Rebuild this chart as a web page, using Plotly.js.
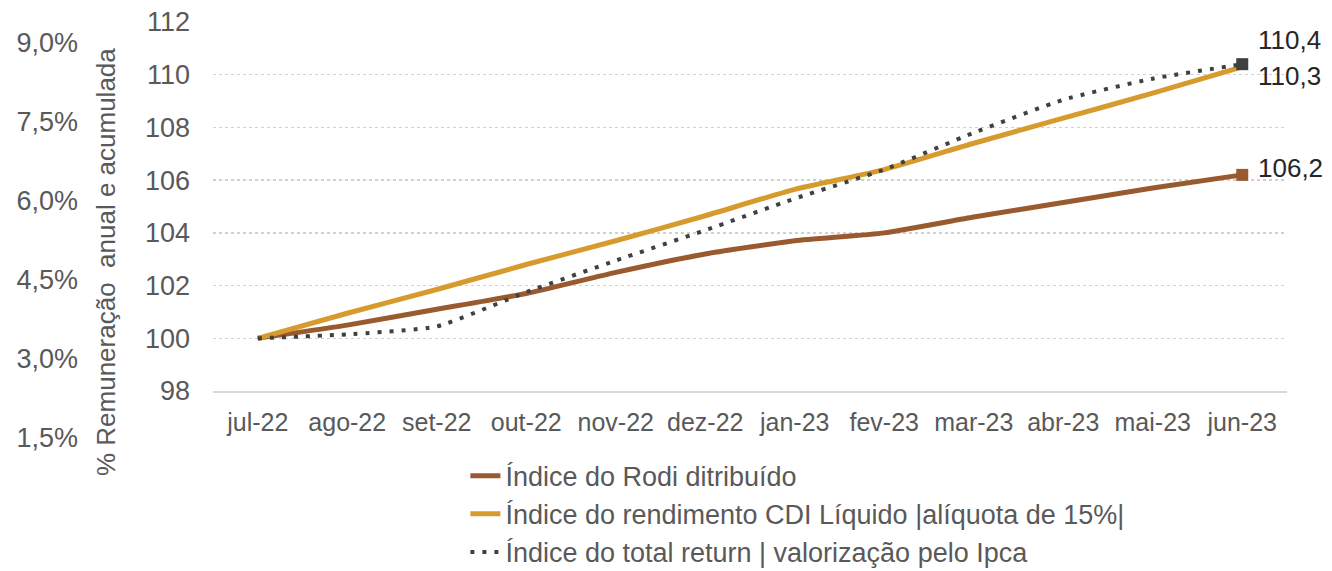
<!DOCTYPE html>
<html>
<head>
<meta charset="utf-8">
<script src="https://cdn.plot.ly/plotly-3.0.1.min.js"></script>
<style>body{margin:0;background:#fff}#chart{width:1332px;height:571px}</style>
</head>
<body>
<div id="chart"></div>
<script>
// months on the x axis
var months = ["jul-22","ago-22","set-22","out-22","nov-22","dez-22","jan-23","fev-23","mar-23","abr-23","mai-23","jun-23"];
// series values (index, base 100)
var rodi = [100, 100.5, 101.1, 101.7, 102.5, 103.2, 103.7, 104.0, 104.6, 105.15, 105.7, 106.2];
var cdi = [100, 100.95, 101.85, 102.8, 103.7, 104.65, 105.65, 106.4, 107.4, 108.35, 109.3, 110.3];
var ipca = [100, 100.15, 100.45, 101.75, 102.95, 104.1, 105.3, 106.4, 107.8, 109.05, 109.85, 110.4];
// left percent scale
var pctTicks = [1.5, 3.0, 4.5, 6.0, 7.5, 9.0];
var pctLabels = ["1,5%", "3,0%", "4,5%", "6,0%", "7,5%", "9,0%"];

var names = ["Índice do Rodi ditribuído", "Índice do rendimento CDI Líquido |alíquota de 15%|", "Índice do total return | valorização pelo Ipca"];
var brown = "#9a5a2f", orange = "#d69a2d", dark = "#404040";
var last = months.length - 1;

function fmt(v) { return v.toFixed(1).replace(".", ","); }

var traces = [
  // dummy trace so the percent axis is drawn
  {x: [0, 1], y: [pctTicks[0], pctTicks[pctTicks.length - 1]], xaxis: "x2", yaxis: "y2", type: "scatter",
   mode: "none", showlegend: false, hoverinfo: "skip"},
  {x: months, y: rodi, name: names[0], type: "scatter", mode: "lines",
   line: {color: brown, width: 5, shape: "spline", smoothing: 0.5}},
  {x: months, y: cdi, name: names[1], type: "scatter", mode: "lines",
   line: {color: orange, width: 5, shape: "spline", smoothing: 0.5}},
  {x: months, y: ipca, name: names[2], type: "scatter", mode: "lines",
   line: {color: dark, width: 4, dash: "4px,8px", shape: "spline", smoothing: 0.5}},
  // end markers
  {x: [months[last]], y: [rodi[last]], type: "scatter", mode: "markers", showlegend: false, hoverinfo: "skip",
   marker: {symbol: "square", size: 12, color: brown}},
  {x: [months[last]], y: [ipca[last]], type: "scatter", mode: "markers", showlegend: false, hoverinfo: "skip",
   marker: {symbol: "square", size: 12, color: dark}}
];

var layout = {
  width: 1332, height: 571,
  margin: {l: 213, r: 45, t: 22, b: 111, autoexpand: false},
  paper_bgcolor: "#fff", plot_bgcolor: "rgba(0,0,0,0)",
  font: {family: "Liberation Sans, Arial, sans-serif", size: 27, color: "#595959"},
  showlegend: true,
  xaxis: {type: "category", range: [-0.5, 11.5], domain: [0, 1], anchor: "y",
    showgrid: false, showline: true, linecolor: "#d9d9d9", linewidth: 2,
    ticks: "", ticklabelstandoff: 8, tickfont: {size: 25, color: "#595959"}},
  yaxis: {range: [98, 112], dtick: 2, domain: [0.1575, 1], anchor: "x",
    showgrid: true, gridcolor: "#d0d0d0", griddash: "dot", gridwidth: 1.5,
    zeroline: false, showline: false, ticks: "", ticklabelstandoff: 22,
    tickfont: {size: 27, color: "#595959"}},
  xaxis2: {domain: [0, 1], anchor: "y2", visible: false, range: [0, 1]},
  yaxis2: {domain: [0, 1], anchor: "x2", range: [1.083, 9.399], tickvals: pctTicks, ticktext: pctLabels,
    showgrid: false, zeroline: false, showline: false, ticks: "", ticklabelstandoff: 134,
    tickfont: {size: 27, color: "#595959"}},
  legend: {x: 0.235, y: 0.019, xanchor: "left", yanchor: "top", orientation: "v",
    font: {size: 27, color: "#595959"}, tracegroupgap: 0, bgcolor: "rgba(0,0,0,0)"},
  annotations: [
    {text: "% Remuneração\u00a0 anual e acumulada", xref: "paper", yref: "paper", x: -0.0996, y: 0.452,
     xanchor: "center", yanchor: "middle", textangle: -90, showarrow: false, font: {size: 26, color: "#595959"}},
    {text: fmt(ipca[last]), x: months[last], y: ipca[last], xanchor: "left", xshift: 14, yshift: 24,
     showarrow: false, font: {size: 26, color: "#262626"}},
    {text: fmt(cdi[last]), x: months[last], y: cdi[last], xanchor: "left", xshift: 14, yshift: -9,
     showarrow: false, font: {size: 26, color: "#262626"}},
    {text: fmt(rodi[last]), x: months[last], y: rodi[last], xanchor: "left", xshift: 14, yshift: 7,
     showarrow: false, font: {size: 26, color: "#262626"}}
  ]
};

Plotly.newPlot("chart", traces, layout, {staticPlot: true, displayModeBar: false});
</script>
</body>
</html>
